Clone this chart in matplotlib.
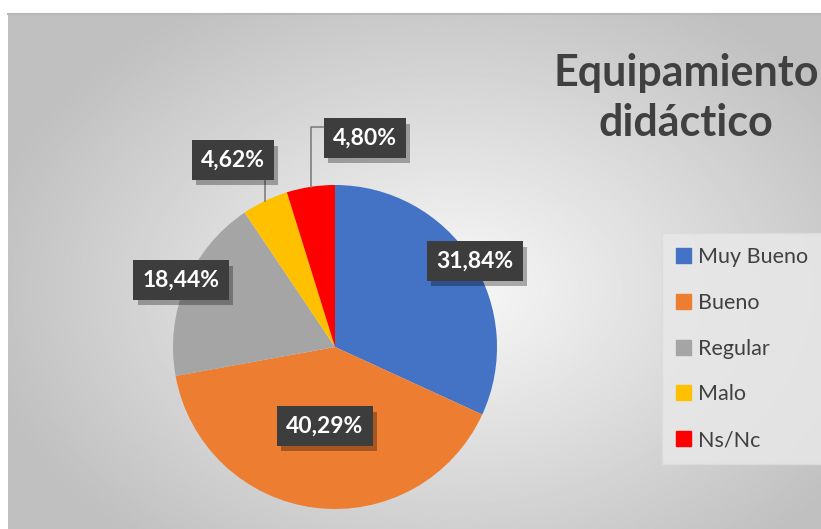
import matplotlib.pyplot as plt
import matplotlib.patches as mpatches
import matplotlib.patheffects as pe
import numpy as np

categorias = ['Muy Bueno', 'Bueno', 'Regular', 'Malo', 'Ns/Nc']
valores = [31.84, 40.29, 18.44, 4.62, 4.80]
colores = ['#4472C4', '#ED7D31', '#A5A5A5', '#FFC000', '#FF0000']
titulo = 'Equipamiento\ndidáctico'

W, H = 821, 529
fig = plt.figure(figsize=(W / 100, H / 100), dpi=100)
ax = fig.add_axes([0, 0, 1, 1])
ax.set_xlim(0, W)
ax.set_ylim(0, H)
ax.set_aspect('equal')
ax.axis('off')

# fondo con degradado radial (area del grafico)
x0, ytop = 8, H - 14
gx, gy = np.meshgrid(np.linspace(x0, W, 400), np.linspace(0, ytop, 300))
d = np.sqrt(((gx - 450) / 470) ** 2 + ((gy - (H - 290)) / 330) ** 2)
g = np.clip(0.975 - 0.22 * d, 0.75, 1)
ax.imshow(g, cmap='gray', vmin=0, vmax=1, extent=[x0, W, 0, ytop],
          origin='lower', zorder=0, aspect='auto')
ax.plot([x0, W], [ytop, ytop], color='#b8b8b8', lw=1.5, zorder=1)

plt.rcParams['font.family'] = ['Lato', 'DejaVu Sans']

cx, cy, r = 335, H - 347, 162
wedges, _ = ax.pie(valores, colors=colores, startangle=90, counterclock=False,
                   center=(cx, cy), radius=r, frame=True,
                   wedgeprops=dict(linewidth=0))
for w in wedges:
    w.set_zorder(2)
ax.set_xlim(0, W)
ax.set_ylim(0, H)
ax.axis('off')

# posiciones de etiquetas (pixeles desde arriba)
pos = [(475, 261), (325, 426), (181, 280), (233, 160), (365, 138)]
sombra = [pe.SimplePatchShadow(offset=(3, -4), shadow_rgbFace='black', alpha=0.3), pe.Normal()]
for v, (px, py) in zip(valores, pos):
    txt = f'{v:.2f}%'.replace('.', ',')
    t = ax.text(px, H - py, txt, ha='center', va='center', fontsize=16.5,
                fontweight='bold', color='white', zorder=5,
                bbox=dict(boxstyle='square,pad=0.4', fc='#3d3d3d', ec='none'))
    t.get_bbox_patch().set_path_effects(sombra)

# lineas guia para Malo y Ns/Nc
acum = np.cumsum([0] + valores)
tot = acum[-1]
for i in (3, 4):
    mid = (acum[i] + acum[i + 1]) / 2 / tot
    ang = np.deg2rad(90 - 360 * mid)
    ex, ey = cx + r * np.cos(ang), cy + r * np.sin(ang)
    if i == 3:
        ax.plot([ex, ex], [ey, H - 181], color='#7f7f7f', lw=1.2, zorder=3)
    else:
        ax.plot([ex, ex, 323], [ey, H - 127, H - 127], color='#7f7f7f', lw=1.2, zorder=3)

ax.text(686, H - 98, titulo, ha='center', va='center', fontsize=31,
        fontweight='bold', color='#404040', linespacing=1.3, zorder=5)

handles = [mpatches.Patch(color=c, label=l) for c, l in zip(colores, categorias)]
leg = ax.legend(handles=handles, loc='upper left',
                bbox_to_anchor=(662 / W, 1 - 233 / H), frameon=True,
                fontsize=15.5, labelspacing=1.2, handlelength=0.7, handleheight=0.7,
                handletextpad=0.3, borderpad=0.65, borderaxespad=0,
                labelcolor='#404040', fancybox=False)
leg.get_frame().set_facecolor('#e8e8e8')
leg.get_frame().set_edgecolor('#dcdcdc')
leg.get_frame().set_alpha(0.85)
leg.set_zorder(6)

fig.savefig('out.png', dpi=100)
